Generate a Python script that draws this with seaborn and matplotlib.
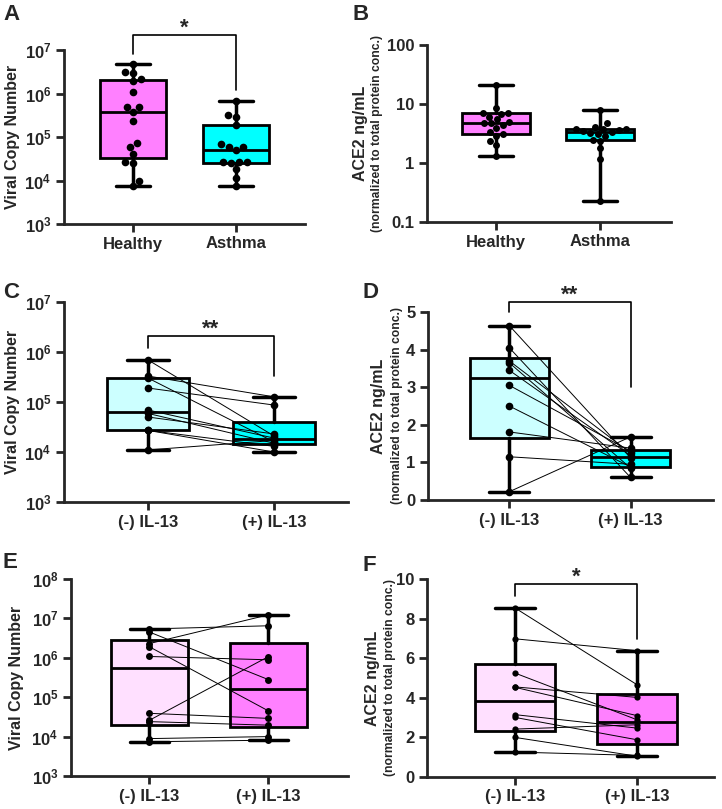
import numpy as np
import pandas as pd
import matplotlib
matplotlib.use("Agg")
import matplotlib.pyplot as plt
import matplotlib.ticker as mticker
import seaborn as sns

# categories
groups_ab = ["Healthy", "Asthma"]
groups_il = ["(-) IL-13", "(+) IL-13"]

# A: viral copy number, healthy vs asthma
a_healthy = [4.7e6, 3.2e6, 2.9e6, 2.1e6, 1.9e6, 1.1e6, 5.0e5, 5.0e5, 3.8e5, 2.3e5,
             7.2e4, 5.8e4, 4.0e4, 2.6e4, 2.5e4, 9.8e3, 7.6e3]
a_asthma = [6.8e5, 3.2e5, 2.9e5, 1.9e5, 6.9e4, 6.0e4, 6.0e4, 5.0e4, 2.6e4, 2.6e4,
            2.6e4, 2.5e4, 1.8e4, 1.15e4, 7.6e3]

# B: ACE2, healthy vs asthma
b_healthy = [21, 8.5, 7.1, 7.1, 6.9, 6.1, 5.5, 4.9, 4.8, 4.7, 4.4, 3.9, 3.4, 3.1,
             2.9, 2.4, 2.0, 1.3]
b_asthma = [7.9, 4.7, 4.0, 3.8, 3.7, 3.7, 3.6, 3.5, 3.3, 3.2, 3.1, 2.9, 2.5, 2.4,
            1.8, 1.15, 0.23]

# C-F: paired donors, (-) IL-13 vs (+) IL-13
c_minus = [6.9e5, 3.3e5, 3.0e5, 1.9e5, 6.9e4, 5.9e4, 5.0e4, 2.7e4, 2.7e4, 1.1e4]
c_plus = [2.1e4, 1.27e5, 1.6e4, 8.7e4, 1.9e4, 1.5e4, 2.3e4, 1.3e4, 1.0e4, 1.7e4]

d_minus = [4.64, 4.05, 3.70, 3.65, 3.45, 3.05, 2.50, 1.81, 1.15, 0.22]
d_plus = [1.12, 0.60, 1.25, 0.85, 1.18, 1.30, 0.88, 1.38, 0.95, 1.68]

e_minus = [5.4e6, 4.5e6, 2.3e6, 1.9e6, 1.08e6, 3.9e4, 2.6e4, 2.4e4, 8.9e3, 7.4e3]
e_plus = [6.5e6, 2.8e5, 1.23e7, 4.5e4, 8.9e5, 2.9e4, 1.07e6, 1.95e4, 1.0e4, 8.1e3]

f_minus = [8.54, 6.98, 5.25, 4.55, 4.53, 3.15, 3.01, 2.42, 2.00, 1.26]
f_plus = [4.66, 6.38, 2.89, 4.02, 3.10, 2.47, 1.88, 2.64, 1.05, 1.09]

MAGENTA = "#FF80FF"
CYAN = "#00FFFF"
LIGHT_CYAN = "#CCFFFF"
LIGHT_PINK = "#FFE0FF"

W, H = 722, 809

sns.set_style("ticks")
plt.rcParams["font.family"] = ["Liberation Sans", "DejaVu Sans"]
plt.rcParams["font.weight"] = "bold"
plt.rcParams["axes.linewidth"] = 2.0
plt.rcParams["mathtext.fontset"] = "custom"
plt.rcParams["mathtext.rm"] = "Liberation Sans:bold"
plt.rcParams["mathtext.bf"] = "Liberation Sans:bold"

fig = plt.figure(figsize=(W / 100, H / 100), dpi=100)


def add_axes_px(l, r, t, b):
    return fig.add_axes([l / W, 1 - b / H, (r - l) / W, (b - t) / H])


def box_stats(vals):
    # quartiles the (n+1)p way, whiskers min to max
    v = np.asarray(vals, dtype=float)
    q1, med, q3 = np.percentile(v, [25, 50, 75], method="weibull")
    return dict(med=med, q1=q1, q3=q3, whislo=v.min(), whishi=v.max(), fliers=[])


def draw_panel(ax, cats, values, colors, log, paired, pt_size):
    df = pd.DataFrame({"pos": np.repeat([0, 1], [len(v) for v in values]),
                       "value": np.concatenate(values)})
    if log:
        ax.set_yscale("log")
    line_kw = dict(color="black", linewidth=2.0)
    whisk_kw = dict(color="black", linewidth=2.5)
    res = ax.bxp([box_stats(v) for v in values], positions=[0, 1], widths=0.65,
                 patch_artist=True, showfliers=False, manage_ticks=False,
                 capwidths=0.33, boxprops=dict(edgecolor="black", linewidth=2.0),
                 medianprops=line_kw, whiskerprops=whisk_kw, capprops=whisk_kw)
    for patch, c in zip(res["boxes"], colors):
        patch.set_facecolor(c)
    if paired:
        for a, b in zip(*values):
            ax.plot([0, 1], [a, b], color="black", lw=0.7, zorder=3)
        sns.stripplot(data=df, x="pos", y="value", native_scale=True, orient="x",
                      jitter=False, color="black", size=pt_size, zorder=4, ax=ax)
    else:
        sns.swarmplot(data=df, x="pos", y="value", native_scale=True, orient="x",
                      color="black", size=pt_size, zorder=4, ax=ax)
    ax.set_xticks([0, 1])
    ax.set_xticklabels(cats)
    ax.set_xlabel("")
    ax.set_ylabel("")
    sns.despine(ax=ax)
    ax.tick_params(axis="both", which="major", width=2.0, length=6,
                   labelsize=12, pad=3)
    ax.tick_params(axis="both", which="minor", length=0)


def log_ticks(ax, lo, hi):
    ax.set_ylim(10.0 ** lo, 10.0 ** hi)
    ax.yaxis.set_major_locator(mticker.FixedLocator([10.0 ** k for k in range(lo, hi + 1)]))
    ax.yaxis.set_minor_locator(mticker.NullLocator())
    ax.yaxis.set_major_formatter(mticker.FuncFormatter(
        lambda v, p: r"$\mathbf{10^{%d}}$" % round(np.log10(v))))


def bracket(ax, y_top, y_left, y_right, label):
    ax.plot([0, 0, 1, 1], [y_left, y_top, y_top, y_right], color="black",
            lw=1.2, clip_on=False)
    ax.annotate(label, xy=(0.5, y_top), xytext=(0, -2.5),
                textcoords="offset points", ha="center", va="bottom",
                fontsize=16, fontweight="bold", annotation_clip=False)


def ylabel_px(ax, x_px, text, size):
    pos = ax.get_position()
    fig.text(x_px / W, pos.y0 + pos.height / 2, text, rotation=90,
             ha="center", va="center", fontsize=size, fontweight="bold")


# ---- A ----
axA = add_axes_px(64, 305, 50, 224)
draw_panel(axA, groups_ab, [a_healthy, a_asthma], [MAGENTA, CYAN], True, False, 5.5)
log_ticks(axA, 3, 7)
axA.set_xlim(-0.67, 1.67)
bracket(axA, 2.2e7, 8.1e6, 1.2e6, "*")
ylabel_px(axA, 13, "Viral Copy Number", 11.5)

# ---- B ----
axB = add_axes_px(427, 671, 45, 222)
draw_panel(axB, groups_ab, [b_healthy, b_asthma], [MAGENTA, CYAN], True, False, 5.0)
axB.set_ylim(0.1, 100)
axB.yaxis.set_major_locator(mticker.FixedLocator([0.1, 1, 10, 100]))
axB.yaxis.set_minor_locator(mticker.NullLocator())
axB.yaxis.set_major_formatter(mticker.FuncFormatter(lambda v, p: "%g" % v))
axB.set_xlim(-0.66, 1.68)
ylabel_px(axB, 360, "ACE2 ng/mL", 11.5)
ylabel_px(axB, 377, "(normalized to total protein conc.)", 8.7)

# ---- C ----
axC = add_axes_px(64, 348, 302, 502)
draw_panel(axC, groups_il, [c_minus, c_plus], [LIGHT_CYAN, CYAN], True, True, 5.5)
log_ticks(axC, 3, 7)
axC.set_xlim(-0.67, 1.59)
bracket(axC, 2.1e6, 1.2e6, 3.3e5, "**")
ylabel_px(axC, 13, "Viral Copy Number", 11.5)

# ---- D ----
axD = add_axes_px(428, 713, 312, 500)
draw_panel(axD, groups_il, [d_minus, d_plus], [LIGHT_CYAN, CYAN], False, True, 5.5)
axD.set_ylim(0, 5)
axD.yaxis.set_major_locator(mticker.MultipleLocator(1))
axD.set_xlim(-0.67, 1.68)
bracket(axD, 5.26, 5.0, 3.0, "**")
ylabel_px(axD, 379, "ACE2 ng/mL", 11.5)
ylabel_px(axD, 397, "(normalized to total protein conc.)", 8.7)

# ---- E ----
axE = add_axes_px(71, 348, 579, 776)
draw_panel(axE, groups_il, [e_minus, e_plus], [LIGHT_PINK, MAGENTA], True, True, 5.0)
log_ticks(axE, 3, 8)
axE.set_xlim(-0.66, 1.67)
ylabel_px(axE, 17, "Viral Copy Number", 11.5)

# ---- F ----
axF = add_axes_px(427, 714, 579, 777)
draw_panel(axF, groups_il, [f_minus, f_plus], [LIGHT_PINK, MAGENTA], False, True, 4.5)
axF.set_ylim(0, 10)
axF.yaxis.set_major_locator(mticker.MultipleLocator(2))
axF.set_xlim(-0.72, 1.63)
bracket(axF, 9.75, 9.12, 6.98, "*")
ylabel_px(axF, 373, "ACE2 ng/mL", 11.5)
ylabel_px(axF, 390, "(normalized to total protein conc.)", 8.7)

# panel letters
for letter, x_px, y_px in [("A", 3, 20), ("B", 353, 20), ("C", 3, 298),
                           ("D", 362, 298), ("E", 3, 568), ("F", 363, 571)]:
    fig.text(x_px / W, 1 - y_px / H, letter, fontsize=16, fontweight="bold",
             ha="left", va="baseline")

fig.savefig("out.png", dpi=100)
